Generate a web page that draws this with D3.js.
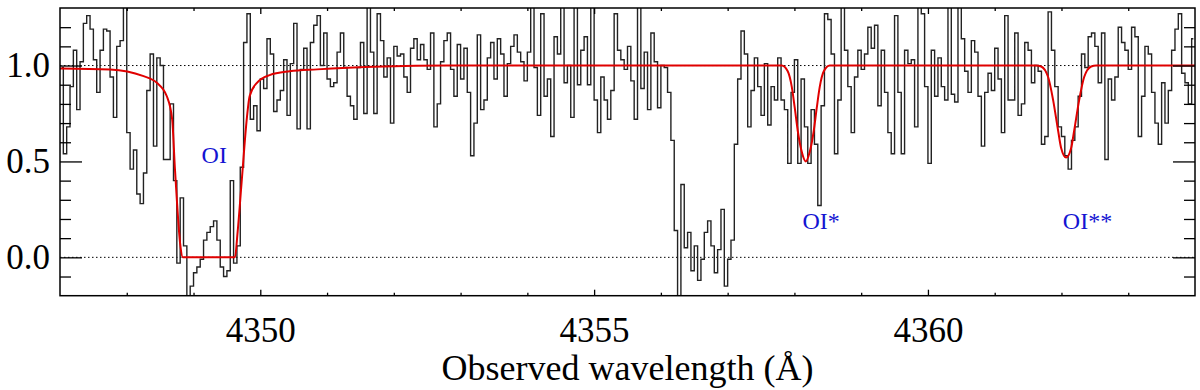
<!DOCTYPE html>
<html>
<head>
<meta charset="utf-8">
<script src="https://cdn.jsdelivr.net/npm/d3@7"></script>
<style>
  body { margin: 0; background: #fff; }
  svg { display: block; font-family: "Liberation Serif", "Times New Roman", serif; }
</style>
</head>
<body>
<svg></svg>
<script>

// spectrum bins, 0.05 A wide starting at 4347.0 A (values > 1.3 or < -0.2 run off the box)
var lamStart = 4347.0;
var lamStep = 0.05;

var fluxA = [0.99,0.54,0.68,0.89,1.08,0.77,1.02,1.22,1.26,1.19,
    1.03,0.86,1.08,1.19,1.18,0.94,0.73,1.10,1.13,1.4,
    0.65,0.46,0.56,0.33,0.28,0.44,0.87,1.06,0.58,1.04,
    1.00,0.51,0.51,0.80,0.40,-0.03,0.31,0.06,-0.3,-0.15,
    -0.08,-0.05,-0.01,0.09,0.13,0.16,0.19,0.09,-0.05,-0.10,
    -0.07,0.40,-0.03,0.06,0.47,1.12,1.27];
var fluxB = [0.72,0.79,0.66,0.93,0.88,1.14,1.06,0.76,0.82,0.87,
    1.03,0.74,1.01,1.22,0.67,0.98,1.09,0.67,1.12,1.21,
    1.26,1.00,1.17,0.93,0.89,0.91,1.07,1.17,0.99,0.84,
    0.79,0.72,0.99,1.12,0.75,1.4,1.07,0.75,1.27,1.13,
    0.94,1.04,0.70,1.10,1.05,1.06,0.94,0.86,1.09,1.14,
    1.03,1.11,1.03,0.98,1.17,0.68,0.80];
var fluxC = [1.02,1.13,1.17,0.98,0.84,1.11,0.93,1.09,0.86,0.53,
    0.70,1.16,0.77,0.82,1.04,1.12,0.93,1.14,1.06,0.84,
    1.01,1.10,1.16,1.07,1.02,0.92,1.07,1.4,0.99,0.74,
    1.27,0.84,0.93,0.63,1.15,1.06,1.4,0.91,1.00,0.73,
    1.4,0.90,1.08,1.15,0.90,1.4,0.82,0.65,0.94,0.82,
    0.72,0.87,1.27,1.08,1.03,0.98,1.10];
var fluxD = [0.92,0.72,1.4,0.88,1.07,0.77,1.17,1.02,0.78,1.00,
    0.99,0.86,0.61,0.14,-0.3,0.38,0.05,0.13,-0.07,0.06,
    -0.12,-0.01,0.13,0.19,0.06,-0.08,0.04,0.25,-0.15,-0.01,
    0.09,0.59,0.93,1.18,1.06,0.68,0.87,1.04,0.89,0.74,
    1.01,0.69,0.89,0.82,1.04,0.82,0.77,0.49,0.86,1.03,
    0.49,0.93,0.68,0.49,0.77,0.59,0.27];
var fluxE = [0.79,1.27,1.24,1.06,0.54,0.82,1.4,1.08,0.89,0.65,
    0.94,1.08,0.98,1.06,1.20,1.09,1.21,0.79,1.08,0.86,
    0.65,0.54,1.26,0.86,0.54,1.08,1.01,1.03,0.68,1.4,
    1.27,0.89,0.49,1.08,0.84,1.04,0.89,0.82,1.4,0.85,
    0.81,1.4,1.14,0.97,0.86,1.13,1.07,0.84,0.58,0.86,
    0.96,0.87,1.09,0.93,0.65,1.26,0.82];
var fluxF = [0.82,1.17,0.74,0.80,1.12,1.08,0.91,1.00,0.97,0.59,
    0.63,1.28,1.08,0.89,0.68,0.63,0.53,0.46,0.61,0.68,
    0.84,1.06,0.99,1.15,1.17,1.10,0.91,1.17,0.51,0.93,
    0.82,0.94,1.20,1.12,1.08,0.98,1.20,1.15,0.63,0.84,
    1.10,1.06,0.86,0.70,0.59,0.91,0.70,0.87,1.08,1.19,
    1.27,0.96,0.91,0.80,1.14];

// fitted model (red)
var modelWave = [4347.0,4347.75,4348.24,4348.45,4348.60,4348.68,4348.72,4348.75,4348.80,4348.84,
    4349.62,4349.66,4349.72,4349.80,4349.84,4349.95,4350.14,4350.44,4350.85,4351.84,4352.8,
    4357.81,4357.90,4357.96,4358.005,4358.05,4358.11,4358.17,4358.23,4358.29,4358.335,4358.38,4358.44,4358.53,
    4361.62,4361.695,4361.80,4361.875,4361.95,4361.995,4362.07,4362.145,4362.19,4362.265,4362.34,4362.445,4362.52,4364.0];
var modelFlux = [0.985,0.98,0.946,0.91,0.84,0.72,0.47,0.30,0.07,0.0,
    0.0,0.13,0.39,0.73,0.84,0.91,0.95,0.97,0.98,0.995,1.0,
    1.0,0.97,0.89,0.78,0.66,0.55,0.50,0.55,0.66,0.78,0.89,0.97,1.0,
    1.0,0.995,0.94,0.82,0.66,0.57,0.52,0.57,0.66,0.82,0.94,0.995,1.0,1.0];

var xDomain = [4347, 4364];
var yDomain = [-0.2, 1.3];
var xMajor = [4350, 4355, 4360];
var xMinor = [4348,4349,4351,4352,4353,4354,4356,4357,4358,4359,4361,4362,4363];
var yMajor = [0.0, 0.5, 1.0];
var yMinor = [-0.1,0.1,0.2,0.3,0.4,0.6,0.7,0.8,0.9,1.1,1.2];
var refLines = [0.0, 1.0];

var lineLabels = [
    {name: 'OI', wave: 4349.31, level: 0.49},
    {name: 'OI*', wave: 4358.40, level: 0.146},
    {name: 'OI**', wave: 4362.39, level: 0.146}
];

var W = 1200, H = 390;
var margin = {left: 60, top: 8, right: 5, bottom: 94.3};

var svg = d3.select("svg")
    .attr("width", W)
    .attr("height", H)

var x = d3.scaleLinear().domain(xDomain).range([margin.left, W - margin.right]);
var y = d3.scaleLinear().domain(yDomain).range([H - margin.bottom, margin.top]);

var flux = fluxA.concat(fluxB, fluxC, fluxD, fluxE, fluxF);
var spec = flux.map(function(f, i) { return {w: lamStart + lamStep * (i + 0.5), f: f}; });

svg.append("clipPath").attr("id", "box")
    .append("rect")
    .attr("x", x(xDomain[0])).attr("y", y(yDomain[1]))
    .attr("width", x(xDomain[1]) - x(xDomain[0]))
    .attr("height", y(yDomain[0]) - y(yDomain[1]));

var plot = svg.append("g").attr("clip-path", "url(#box)");

// dotted reference levels
plot.selectAll(".ref")
    .data(refLines)
    .enter()
    .append("line")
    .attr("x1", x(xDomain[0])).attr("x2", x(xDomain[1]))
    .attr("y1", function(d) { return y(d); })
    .attr("y2", function(d) { return y(d); })
    .style("stroke", "#000")
    .style("stroke-width", 1)
    .style("stroke-dasharray", "1.5,2.5");

var stepLine = d3.line()
    .x(function(d) { return x(d.w); })
    .y(function(d) { return y(d.f); })
    .curve(d3.curveStep);

plot.append("path")
    .datum(spec)
    .attr("d", stepLine)
    .style("fill", "none")
    .style("stroke", "#222")
    .style("stroke-width", 1.4);

var model = modelWave.map(function(w, i) { return {w: w, f: modelFlux[i]}; });

plot.append("path")
    .datum(model)
    .attr("d", d3.line()
        .x(function(d) { return x(d.w); })
        .y(function(d) { return y(d.f); })
        .curve(d3.curveMonotoneX))
    .style("fill", "none")
    .style("stroke", "#e00000")
    .style("stroke-width", 2);

// axes, ticks pointing inward on all four sides
var fontSize = 35;

function noDomain(g) { g.select(".domain").remove(); }

svg.append("g")
    .attr("transform", "translate(0," + y(yDomain[0]) + ")")
    .call(d3.axisBottom(x).tickValues(xMinor).tickSize(-3).tickFormat(""))
    .call(noDomain);
svg.append("g")
    .attr("transform", "translate(0," + y(yDomain[0]) + ")")
    .call(d3.axisBottom(x).tickValues(xMajor).tickSize(-6).tickPadding(21.5).tickFormat(d3.format("d")))
    .call(noDomain)
    .selectAll("text")
    .style("font-size", fontSize + "px")
    .style("font-family", "Liberation Serif")
    .attr("fill", "#000");

svg.append("g")
    .attr("transform", "translate(0," + y(yDomain[1]) + ")")
    .call(d3.axisTop(x).tickValues(xMinor).tickSize(-3).tickFormat(""))
    .call(noDomain);
svg.append("g")
    .attr("transform", "translate(0," + y(yDomain[1]) + ")")
    .call(d3.axisTop(x).tickValues(xMajor).tickSize(-6).tickFormat(""))
    .call(noDomain);

svg.append("g")
    .attr("transform", "translate(" + x(xDomain[0]) + ",0)")
    .call(d3.axisLeft(y).tickValues(yMinor).tickSize(-11).tickFormat(""))
    .call(noDomain);
svg.append("g")
    .attr("transform", "translate(" + x(xDomain[0]) + ",0)")
    .call(d3.axisLeft(y).tickValues(yMajor).tickSize(-22).tickPadding(10).tickFormat(d3.format(".1f")))
    .call(noDomain)
    .selectAll("text")
    .style("font-size", fontSize + "px")
    .style("font-family", "Liberation Serif")
    .attr("fill", "#000");

svg.append("g")
    .attr("transform", "translate(" + x(xDomain[1]) + ",0)")
    .call(d3.axisRight(y).tickValues(yMinor).tickSize(-11).tickFormat(""))
    .call(noDomain);
svg.append("g")
    .attr("transform", "translate(" + x(xDomain[1]) + ",0)")
    .call(d3.axisRight(y).tickValues(yMajor).tickSize(-22).tickFormat(""))
    .call(noDomain);

svg.selectAll(".tick line").style("stroke", "#000").style("stroke-width", 1.3);

svg.append("rect")
    .attr("x", x(xDomain[0])).attr("y", y(yDomain[1]))
    .attr("width", x(xDomain[1]) - x(xDomain[0]))
    .attr("height", y(yDomain[0]) - y(yDomain[1]))
    .style("fill", "none")
    .style("stroke", "#000")
    .style("stroke-width", 1.5);

svg.append("text")
    .attr("x", (x(xDomain[0]) + x(xDomain[1])) / 2)
    .attr("y", 380)
    .attr("text-anchor", "middle")
    .style("font-size", "36px")
    .text("Observed wavelength (Å)");

svg.selectAll(".linelabel")
    .data(lineLabels)
    .enter()
    .append("text")
    .attr("x", function(d) { return x(d.wave); })
    .attr("y", function(d) { return y(d.level); })
    .attr("text-anchor", "middle")
    .style("font-size", "24px")
    .style("fill", "#1414d2")
    .text(function(d) { return d.name; });

</script>
</body>
</html>
